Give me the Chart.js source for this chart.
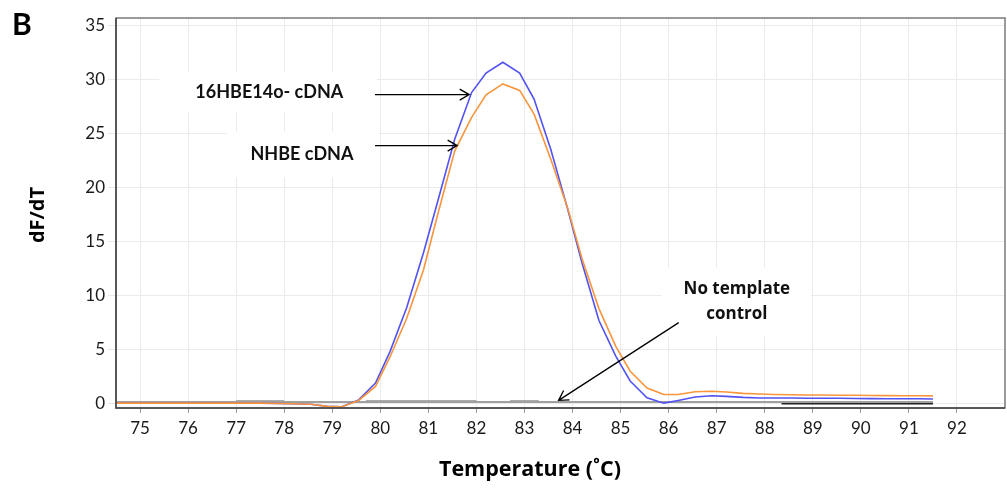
<!DOCTYPE html>
<html>
<head>
<meta charset="utf-8">
<title>Melt curve</title>
<script src="https://cdn.jsdelivr.net/npm/chart.js@4.4.1/dist/chart.umd.min.js"></script>
<style>
  body { margin: 0; background: #fff; }
  #wrap { width: 1007px; height: 495px; position: relative; }
</style>
</head>
<body>
<div id="wrap"><canvas id="meltChart"></canvas></div>
<script>
// Melt curve data (temperature in C, dF/dT)
const temps = [74.5, 75.5, 76.5, 77.5,
    78.2, 78.55, 78.9, 79.2, 79.55, 79.9, 80.2, 80.55, 80.9, 81.2,
    81.55, 81.9, 82.2, 82.55, 82.9, 83.2, 83.55, 83.9, 84.2, 84.55,
    84.9, 85.2, 85.55, 85.9, 86.2, 86.55, 86.9, 87.2, 87.55, 87.9,
    88.2, 88.55, 88.9, 89.2, 89.55, 89.9, 90.2, 90.55, 90.9, 91.2, 91.5];
const hbeValues = [0.05, 0.05, 0.05, 0.05,
    0.0, -0.05, -0.25, -0.28, 0.35, 1.9, 4.8, 8.9, 14.0, 18.8,
    24.5, 28.8, 30.6, 31.6, 30.6, 28.2, 23.5, 18.0, 13.0, 7.7,
    4.4, 2.1, 0.55, 0.05, 0.3, 0.62, 0.74, 0.68, 0.58, 0.53,
    0.52, 0.52, 0.5, 0.5, 0.5, 0.48, 0.47, 0.46, 0.45, 0.45, 0.44];
const nhbeValues = [0.05, 0.05, 0.05, 0.05,
    0.0, -0.05, -0.25, -0.28, 0.3, 1.6, 4.3, 7.9, 12.4, 17.6,
    23.4, 26.5, 28.6, 29.6, 29.0, 26.8, 22.6, 18.1, 13.4, 8.8,
    5.3, 3.0, 1.45, 0.85, 0.85, 1.1, 1.15, 1.08, 0.95, 0.9,
    0.85, 0.82, 0.8, 0.8, 0.78, 0.78, 0.76, 0.75, 0.74, 0.73, 0.72];

// No template control traces (flat near zero)
const ntcTemps = [74.5, 91.5];
const ntcValues = [0.15, 0.15];
const ntcDarkTemps = [77.0, 78.0, 78.5, 79.7, 82.0, 82.35, 82.7, 83.3];
const ntcDarkValues = [0.2, 0.2, null, 0.2, 0.2, null, 0.2, 0.2];
const ntcBlackTemps = [88.35, 91.5];
const ntcBlackValues = [0.05, 0.05];

const xTicks = [75, 76, 77, 78, 79, 80, 81, 82, 83, 84, 85, 86, 87, 88, 89, 90, 91, 92];
const yTicks = [0, 5, 10, 15, 20, 25, 30, 35];

// Annotation labels and arrows, in data units
const labelBoxes = [
    { x0: 75.4, x1: 79.93, y0: 30.74, y1: 26.94 },
    { x0: 76.81, x1: 79.97, y0: 25.19, y1: 20.93 },
    { x0: 85.86, x1: 88.96, y0: 12.59, y1: 6.2 }
];
const labelTexts = [
    { text: '16HBE14o- cDNA', x: 77.69, y: 28.8, wide: false },
    { text: 'NHBE cDNA', x: 78.37, y: 23.06, wide: false },
    { text: 'No template', x: 87.42, y: 10.6, wide: true },
    { text: 'control', x: 87.42, y: 8.3, wide: true }
];
const arrows = [
    { fromX: 79.89, fromY: 28.61, toX: 81.85, toY: 28.61 },
    { fromX: 79.89, fromY: 23.89, toX: 81.6, toY: 23.89 },
    { fromX: 86.21, fromY: 7.5, toX: 83.71, toY: 0.31 }
];

function toPoints(xs, ys) {
    return xs.map((x, i) => ({ x: x, y: ys[i] }));
}

const FONT = 'Lato, "Open Sans", sans-serif';
const WIDE_FONT = '"Open Sans", "Noto Sans", sans-serif';

// White label boxes go under the curves, text and arrows on top
const annotationPlugin = {
    id: 'annotations',
    beforeDatasetsDraw(chart) {
        const { ctx, scales: { x, y } } = chart;
        ctx.save();
        ctx.fillStyle = '#ffffff';
        labelBoxes.forEach(b => {
            const px0 = x.getPixelForValue(b.x0), px1 = x.getPixelForValue(b.x1);
            const py0 = y.getPixelForValue(b.y0), py1 = y.getPixelForValue(b.y1);
            ctx.fillRect(px0, py0, px1 - px0, py1 - py0);
        });
        ctx.restore();
    },
    afterDraw(chart) {
        const { ctx, chartArea: a, scales: { x, y } } = chart;
        ctx.save();

        // frame
        ctx.strokeStyle = '#7a7a7a';
        ctx.lineWidth = 1.5;
        ctx.strokeRect(a.left, a.top, a.right - a.left, a.bottom - a.top);
        ctx.strokeStyle = '#444';
        ctx.beginPath();
        ctx.moveTo(a.left, a.top);
        ctx.lineTo(a.left, a.bottom);
        ctx.lineTo(a.right, a.bottom);
        ctx.stroke();

        // labels
        ctx.fillStyle = '#111';
        ctx.textAlign = 'center';
        ctx.textBaseline = 'middle';
        labelTexts.forEach(t => {
            ctx.font = t.wide ? 'bold 17px ' + WIDE_FONT : 'bold 18px ' + FONT;
            ctx.fillText(t.text, x.getPixelForValue(t.x), y.getPixelForValue(t.y));
        });

        // arrows with open heads
        ctx.strokeStyle = '#000';
        ctx.lineWidth = 1.3;
        arrows.forEach(ar => {
            const x0 = x.getPixelForValue(ar.fromX), y0 = y.getPixelForValue(ar.fromY);
            const x1 = x.getPixelForValue(ar.toX), y1 = y.getPixelForValue(ar.toY);
            const ang = Math.atan2(y1 - y0, x1 - x0);
            const len = 11, spread = Math.PI / 6;
            ctx.beginPath();
            ctx.moveTo(x0, y0);
            ctx.lineTo(x1, y1);
            ctx.moveTo(x1 - len * Math.cos(ang - spread), y1 - len * Math.sin(ang - spread));
            ctx.lineTo(x1, y1);
            ctx.lineTo(x1 - len * Math.cos(ang + spread), y1 - len * Math.sin(ang + spread));
            ctx.stroke();
        });

        // panel letter and axis titles
        ctx.fillStyle = '#000';
        ctx.textAlign = 'left';
        ctx.textBaseline = 'alphabetic';
        ctx.font = 'bold 30px ' + FONT;
        ctx.fillText('B', 12, 35);

        ctx.textAlign = 'center';
        ctx.textBaseline = 'middle';
        ctx.font = 'bold 21.5px ' + WIDE_FONT;
        ctx.fillText('Temperature (˚C)', 530, 470);

        ctx.font = 'bold 20px ' + WIDE_FONT;
        ctx.translate(38, 215);
        ctx.rotate(-Math.PI / 2);
        ctx.fillText('dF/dT', 0, 0);
        ctx.restore();
    }
};

const ctx = document.getElementById('meltChart').getContext('2d');
new Chart(ctx, {
    type: 'line',
    data: {
        datasets: [
            {
                label: 'NHBE cDNA',
                data: toPoints(temps, nhbeValues),
                borderColor: '#f8953d',
                borderWidth: 1.6
            },
            {
                label: '16HBE14o- cDNA',
                data: toPoints(temps, hbeValues),
                borderColor: '#5252f2',
                borderWidth: 1.6
            },
            {
                label: 'No template control',
                data: toPoints(ntcTemps, ntcValues),
                borderColor: '#a0a0a0',
                borderWidth: 2
            },
            {
                label: 'No template control (dark)',
                data: toPoints(ntcDarkTemps, ntcDarkValues),
                borderColor: '#5a5a5a',
                borderWidth: 2
            },
            {
                label: 'No template control (black)',
                data: toPoints(ntcBlackTemps, ntcBlackValues),
                borderColor: '#222',
                borderWidth: 2.5
            }
        ]
    },
    options: {
        responsive: true,
        maintainAspectRatio: false,
        devicePixelRatio: 1,
        animation: false,
        layout: { padding: { top: 18, right: 2, left: 0, bottom: 0 } },
        elements: {
            point: { radius: 0 },
            line: { tension: 0, fill: false }
        },
        plugins: {
            legend: { display: false },
            tooltip: { enabled: false }
        },
        scales: {
            x: {
                type: 'linear',
                min: 74.5,
                max: 93,
                afterBuildTicks: s => { s.ticks = xTicks.map(v => ({ value: v })); },
                afterFit: s => { s.height = 87; },
                grid: { color: '#ebebeb', tickLength: 5, tickColor: '#9a9a9a' },
                border: { display: false },
                ticks: {
                    autoSkip: false,
                    maxRotation: 0,
                    padding: 5,
                    color: '#1a1a1a',
                    font: { family: FONT, size: 17 }
                }
            },
            y: {
                min: -0.4,
                max: 35.7,
                afterBuildTicks: s => { s.ticks = yTicks.map(v => ({ value: v })); },
                afterFit: s => { s.width = 116; },
                grid: { color: '#ebebeb', tickLength: 8, tickColor: '#e6e6e6' },
                border: { display: false },
                ticks: {
                    padding: 3,
                    color: '#1a1a1a',
                    font: { family: FONT, size: 17 }
                }
            }
        }
    },
    plugins: [annotationPlugin]
});
</script>
</body>
</html>
